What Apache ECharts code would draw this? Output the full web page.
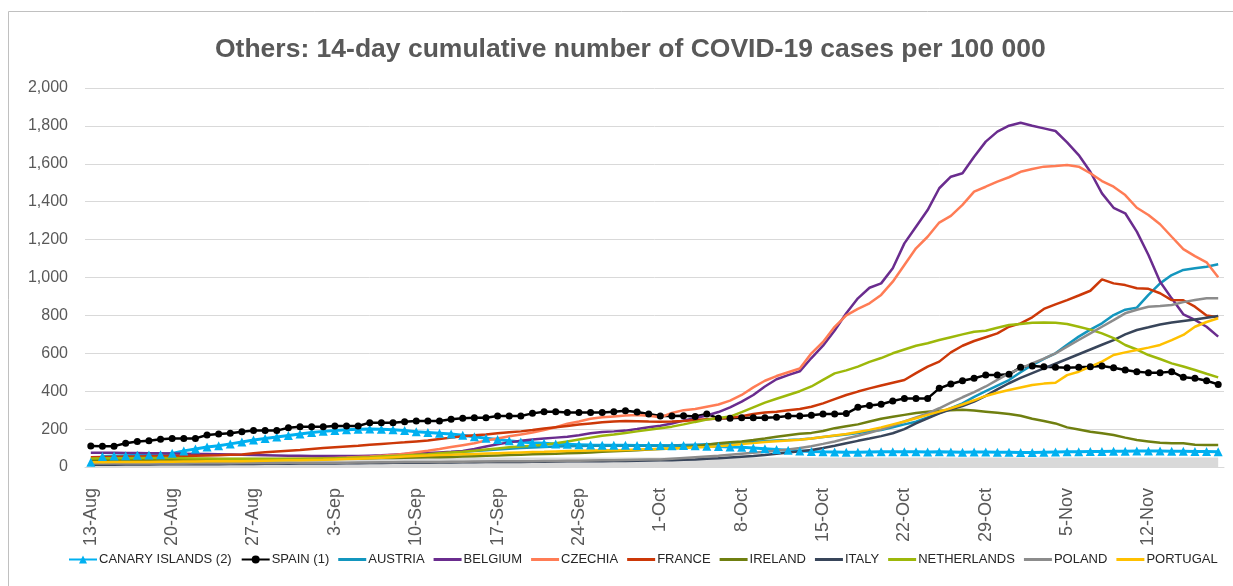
<!DOCTYPE html>
<html>
<head>
<meta charset="utf-8">
<title>Others: 14-day cumulative number of COVID-19 cases</title>
<script src="https://cdn.jsdelivr.net/npm/echarts/dist/echarts.min.js"></script>
<style>
html, body { margin: 0; padding: 0; background: #fff; }
#main { width: 1233px; height: 586px; }
</style>
</head>
<body>
<div id="main"></div>
<script>
// 13-Aug .. 18-Nov, one point per day
var dates = [
  '13-Aug','14-Aug','15-Aug','16-Aug','17-Aug','18-Aug','19-Aug','20-Aug','21-Aug','22-Aug','23-Aug','24-Aug','25-Aug','26-Aug',
  '27-Aug','28-Aug','29-Aug','30-Aug','31-Aug','1-Sep','2-Sep','3-Sep','4-Sep','5-Sep','6-Sep','7-Sep','8-Sep','9-Sep',
  '10-Sep','11-Sep','12-Sep','13-Sep','14-Sep','15-Sep','16-Sep','17-Sep','18-Sep','19-Sep','20-Sep','21-Sep','22-Sep','23-Sep',
  '24-Sep','25-Sep','26-Sep','27-Sep','28-Sep','29-Sep','30-Sep','1-Oct','2-Oct','3-Oct','4-Oct','5-Oct','6-Oct','7-Oct',
  '8-Oct','9-Oct','10-Oct','11-Oct','12-Oct','13-Oct','14-Oct','15-Oct','16-Oct','17-Oct','18-Oct','19-Oct','20-Oct','21-Oct',
  '22-Oct','23-Oct','24-Oct','25-Oct','26-Oct','27-Oct','28-Oct','29-Oct','30-Oct','31-Oct','1-Nov','2-Nov','3-Nov','4-Nov',
  '5-Nov','6-Nov','7-Nov','8-Nov','9-Nov','10-Nov','11-Nov','12-Nov','13-Nov','14-Nov','15-Nov','16-Nov','17-Nov','18-Nov'
];

var canary = [
  25, 55, 58, 60, 62, 63, 65,  72, 85, 95, 105, 112, 122, 132,  142, 150, 158, 166, 174, 182, 188,
  193, 197, 199, 200, 199, 196, 192,  186, 182, 178, 174, 168, 160, 152,  145, 138, 132, 128, 125, 122, 120,
  118, 116, 115, 115, 115, 114, 113,  113, 112, 113, 112, 110, 108, 106,  104, 100, 96, 92, 88, 85, 82,
  80, 79, 78, 78, 79, 80, 80,  81, 80, 79, 80, 79, 78, 79,  79, 78, 78, 77, 77, 78, 79,
  80, 81, 82, 82, 83, 83, 84,  84, 84, 83, 83, 82, 82, 81
];
var spain = [
  111, 110, 110, 125, 134, 139, 146,  151, 151, 151, 169, 174, 178, 186,  192, 192, 192, 207, 213, 213, 213,
  216, 216, 216, 234, 234, 234, 239,  243, 243, 243, 252, 257, 260, 260,  269, 269, 269, 283, 292, 292, 287,
  287, 287, 287, 292, 297, 290, 280,  269, 269, 271, 266, 280, 257, 257,  260, 260, 260, 263, 269, 269, 273,
  280, 280, 282, 315, 324, 331, 348,  362, 362, 362, 415, 438, 455, 468,  485, 485, 489, 526, 533, 529, 526,
  524, 526, 529, 533, 524, 512, 503,  498, 498, 503, 473, 468, 455, 436
];
var austria = [
  20, 21, 22, 23, 24, 25, 26,  27, 28, 29, 30, 31, 32, 33,  34, 35, 36, 37, 38, 40, 42,
  44, 46, 48, 50, 53, 56, 60,  64, 68, 72, 76, 80, 84, 88,  92, 96, 100, 103, 106, 108, 110,
  111, 112, 112, 112, 112, 112, 112,  112, 114, 116, 118, 120, 122, 124,  128, 132, 136, 140, 142, 145, 150,
  158, 165, 172, 180, 188, 195, 210,  225, 239, 262, 285, 310, 336, 370,  400, 430, 459, 500, 538, 570, 600,
  645, 688, 725, 758, 802, 830, 841,  908, 969, 1013, 1040, 1049, 1057, 1070
];
var belgium = [
  75, 75, 75, 74, 74, 73, 72,  71, 70, 69, 68, 67, 66, 64,  63, 62, 61, 60, 59, 58, 58,
  58, 58, 58, 60, 62, 65, 68,  71, 74, 77, 80, 85, 95, 108,  120, 130, 138, 145, 150, 155, 160,
  168, 178, 185, 188, 192, 200, 210,  218, 230, 245, 258, 272, 290, 315,  345, 380, 425, 463, 485, 505, 575,
  640, 720, 811, 890, 946, 969, 1049,  1180, 1268, 1356, 1471, 1532, 1550, 1637,  1717, 1770, 1801, 1817, 1801, 1787, 1773,
  1713, 1646, 1558, 1444, 1368, 1339, 1242,  1119, 978, 890, 806, 776, 740, 688
];
var czechia = [
  30, 31, 31, 32, 32, 33, 33,  34, 34, 35, 36, 36, 37, 38,  39, 40, 41, 42, 43, 44, 46,
  48, 50, 53, 56, 60, 64, 70,  78, 86, 95, 105, 115, 125, 140,  150, 162, 172, 182, 195, 210, 228,
  240, 255, 262, 267, 272, 274, 270,  262, 285, 300, 306, 318, 330, 350,  380, 420, 455, 480, 500, 520, 600,
  660, 740, 800, 834, 864, 908, 978,  1066, 1154, 1215, 1290, 1325, 1383, 1453,  1479, 1506, 1529, 1558, 1573, 1585, 1588,
  1594, 1585, 1550, 1509, 1479, 1435, 1368,  1330, 1281, 1215, 1150, 1113, 1080, 1001
];
var france = [
  52, 53, 54, 55, 56, 57, 58,  58, 59, 60, 61, 62, 64, 66,  72, 78, 82, 86, 90, 95, 100,
  104, 108, 112, 118, 122, 126, 130,  135, 140, 148, 155, 162, 168, 172,  178, 183, 188, 195, 203, 210, 216,
  224, 230, 236, 240, 243, 242, 240,  239, 240, 243, 248, 252, 256, 260,  268, 280, 288, 292, 300, 306, 318,
  336, 358, 380, 398, 415, 430, 445,  459, 495, 530, 556, 605, 640, 665,  685, 705, 740, 758, 790, 834, 858,
  881, 905, 930, 990, 969, 960, 943,  940, 917, 881, 880, 846, 800, 790
];
var ireland = [
  35, 35, 36, 36, 37, 37, 38,  38, 38, 39, 39, 39, 40, 40,  40, 40, 41, 41, 41, 42, 42,
  43, 44, 45, 46, 47, 48, 49,  50, 51, 52, 53, 55, 57, 59,  61, 63, 65, 67, 69, 70, 72,
  74, 77, 80, 83, 86, 89, 92,  95, 98, 103, 110, 118, 125, 130,  135, 142, 150, 160, 168, 175, 180,
  190, 205, 215, 225, 240, 255, 265,  275, 285, 292, 297, 300, 302, 298,  292, 286, 280, 270, 255, 243, 230,
  209, 198, 186, 178, 169, 155, 142,  135, 128, 125, 125, 118, 116, 116
];
var italy = [
  12, 12, 12, 13, 13, 13, 14,  14, 14, 15, 15, 15, 16, 16,  16, 17, 17, 17, 18, 18, 19,
  19, 20, 20, 21, 21, 22, 22,  23, 23, 24, 24, 25, 25, 26,  26, 27, 27, 28, 28, 29, 30,
  30, 31, 31, 32, 32, 33, 34,  35, 36, 38, 40, 43, 46, 50,  54, 58, 63, 70, 76, 83, 90,
  100, 112, 125, 138, 150, 163, 178,  200, 230, 257, 283, 305, 322, 345,  375, 410, 442, 470, 495, 520, 545,
  570, 595, 620, 645, 670, 700, 723,  737, 752, 762, 770, 778, 788, 797
];
var netherlands = [
  45, 46, 46, 46, 47, 47, 47,  47, 46, 45, 45, 44, 44, 44,  43, 43, 43, 43, 44, 44, 45,
  46, 48, 50, 52, 55, 58, 61,  64, 67, 72, 76, 80, 86, 92,  98, 104, 108, 112, 118, 125, 135,
  145, 155, 165, 172, 180, 188, 196,  205, 213, 225, 238, 250, 258, 266,  290, 315, 340, 360, 380, 400, 425,
  460, 494, 510, 530, 555, 575, 600,  620, 640, 653, 670, 685, 700, 714,  719, 735, 749, 755, 761, 763, 761,
  755, 740, 725, 705, 680, 644, 620,  591, 570, 547, 530, 512, 492, 473
];
var poland = [
  18, 18, 18, 18, 19, 19, 19,  19, 19, 20, 20, 20, 20, 21,  21, 21, 21, 22, 22, 22, 23,
  23, 23, 24, 24, 25, 25, 26,  26, 27, 27, 28, 28, 29, 29,  30, 30, 31, 31, 32, 32, 33,
  33, 34, 35, 36, 37, 38, 39,  40, 44, 48, 52, 56, 60, 65,  70, 75, 80, 86, 92, 100, 110,
  122, 135, 150, 165, 180, 198, 218,  240, 262, 283, 310, 340, 368, 395,  425, 460, 494, 520, 547, 572, 600,
  635, 670, 705, 740, 775, 811, 830,  846, 850, 855, 870, 881, 890, 890
];
var portugal = [
  25, 25, 26, 26, 27, 27, 28,  28, 29, 29, 30, 30, 31, 31,  32, 33, 34, 35, 36, 37, 38,
  40, 42, 44, 46, 49, 52, 55,  58, 61, 63, 65, 67, 69, 71,  73, 75, 77, 79, 80, 82, 84,
  86, 87, 88, 89, 90, 92, 94,  96, 98, 100, 103, 106, 110, 115,  121, 126, 132, 136, 140, 144, 150,
  158, 166, 174, 185, 196, 209, 225,  240, 257, 275, 292, 310, 330, 352,  375, 392, 406, 420, 433, 440, 445,
  485, 503, 530, 556, 591, 605, 617,  630, 644, 670, 697, 740, 765, 785
];

// grey band along the bottom of the plot
var baseBand = [0, 50];

var yTicks = { min: 0, max: 2000, step: 200 };

var chart = echarts.init(document.getElementById('main'));

// legend icon for the plain lines: a short bar, no marker
var lineIcon = 'path://M0,0 L28,0 L28,3 L0,3 Z';

// plain lines
function plain(name, data, color) {
  return {
    name: name,
    type: 'line',
    data: data,
    symbol: 'none',
    lineStyle: { color: color, width: 2.5 },
    itemStyle: { color: color }
  };
}

var series = [
  {
    name: '',
    type: 'line',
    data: [],
    silent: true,
    z: 1,
    markArea: {
      silent: true,
      itemStyle: { color: '#D9D9D9' },
      data: [[
        { xAxis: dates[0], yAxis: baseBand[0] },
        { xAxis: dates[dates.length - 1], yAxis: baseBand[1] }
      ]]
    }
  },
  {
    name: 'CANARY ISLANDS (2)',
    type: 'line',
    data: canary,
    symbol: 'triangle',
    symbolSize: 9,
    showAllSymbol: true,
    lineStyle: { color: '#00B0F0', width: 3 },
    itemStyle: { color: '#00B0F0' }
  },
  {
    name: 'SPAIN (1)',
    type: 'line',
    data: spain,
    symbol: 'circle',
    symbolSize: 7,
    showAllSymbol: true,
    lineStyle: { color: '#000000', width: 2.5 },
    itemStyle: { color: '#000000' }
  },
  plain('AUSTRIA', austria, '#1396BE'),
  plain('BELGIUM', belgium, '#6A2C8E'),
  plain('CZECHIA', czechia, '#FF7C55'),
  plain('FRANCE', france, '#CC3808'),
  plain('IRELAND', ireland, '#6F7F10'),
  plain('ITALY', italy, '#38455A'),
  plain('NETHERLANDS', netherlands, '#9DB80A'),
  plain('POLAND', poland, '#8C8C8C'),
  plain('PORTUGAL', portugal, '#FFC000')
];

var legendItems = series.slice(1).map(function (s, i) {
  return i < 2 ? { name: s.name } : { name: s.name, icon: lineIcon };
});

chart.setOption({
  animation: false,
  backgroundColor: '#ffffff',
  title: {
    text: 'Others: 14-day cumulative number of COVID-19 cases per 100 000',
    left: 210,
    top: 31,
    textStyle: {
      fontFamily: 'Liberation Sans',
      fontSize: 26.5,
      fontWeight: 'bold',
      color: '#595959'
    }
  },
  // outer frame of the chart area
  graphic: [{
    type: 'rect',
    left: 6,
    top: 9,
    shape: { width: 1300, height: 700 },
    style: { fill: 'none', stroke: '#C0C0C0', lineWidth: 1 },
    silent: true
  }],
  legend: {
    data: legendItems,
    left: 68,
    top: 553,
    width: 1165,
    padding: 0,
    itemWidth: 28,
    itemHeight: 10,
    itemGap: 9,
    textStyle: { fontFamily: 'Liberation Sans', fontSize: 13, color: '#262626', padding: [0, 0, 0, -3] }
  },
  grid: { left: 85, right: 9, top: 88, bottom: 119, containLabel: false },
  xAxis: {
    type: 'category',
    data: dates,
    boundaryGap: true,
    axisLine: { lineStyle: { color: '#D9D9D9', width: 1 } },
    axisTick: { interval: 6, length: 5, lineStyle: { color: '#BFBFBF' } },
    axisLabel: {
      interval: 6,
      rotate: 90,
      margin: 21,
      fontFamily: 'Liberation Sans',
      fontSize: 18,
      color: '#595959'
    }
  },
  yAxis: {
    type: 'value',
    min: yTicks.min,
    max: yTicks.max,
    interval: yTicks.step,
    axisLine: { show: false },
    axisTick: { show: false },
    splitLine: { lineStyle: { color: '#D9D9D9', width: 1 } },
    axisLabel: {
      margin: 17,
      fontFamily: 'Liberation Sans',
      fontSize: 16,
      color: '#595959',
      formatter: function (v) { return v.toLocaleString('en-US'); }
    }
  },
  series: series
});
</script>
</body>
</html>
